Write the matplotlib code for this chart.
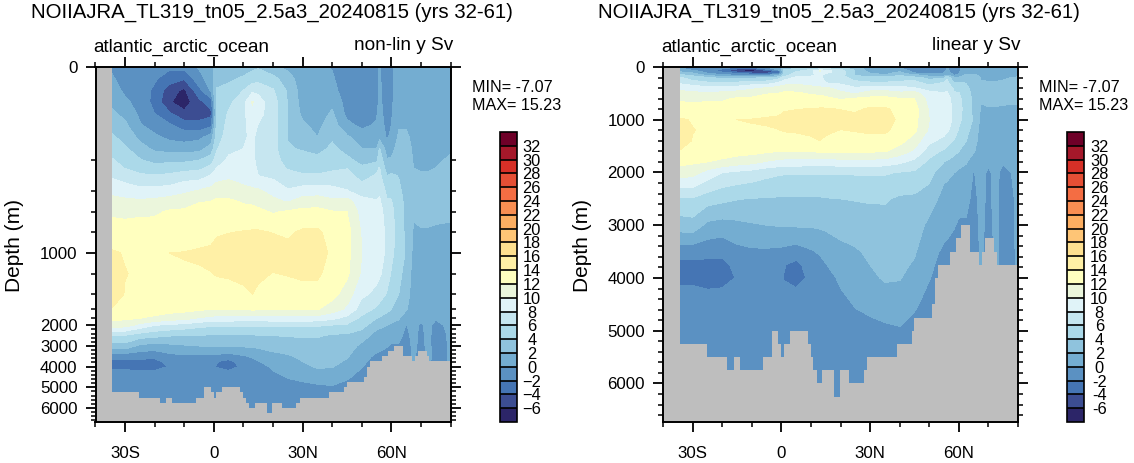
import numpy as np
import matplotlib
matplotlib.use("Agg")
import matplotlib.pyplot as plt
from matplotlib.colors import ListedColormap, BoundaryNorm
from matplotlib.ticker import FixedLocator, FixedFormatter

plt.rcParams['font.family'] = ['Liberation Sans', 'DejaVu Sans']

W, H = 1134, 463
title = "NOIIAJRA_TL319_tn05_2.5a3_20240815 (yrs 32-61)"
basin = "atlantic_arctic_ocean"
levels = list(range(-6, 34, 2))
band_colors = ['#2c2568', '#3c4d92', '#4575b4', '#5b91c2', '#74add1', '#8fc3dd', '#abd9e9',
               '#c6e6f0', '#e0f3f8', '#ebf6dc', '#ffffbf', '#fff0a6', '#fee090', '#fec576',
               '#fdae61', '#f98e52', '#f46d43', '#e54f35', '#d73027', '#a5182a', '#6e0028']

depths = [0, 25, 50, 75, 100, 125, 150, 175, 200, 250, 300, 400, 500, 600, 800, 1000,
          1200, 1400, 1600, 1800, 2000, 2500, 3000, 3500, 3750, 4000, 4250, 4500, 5000, 5500, 6000, 6300]
lats = [-34.5, -30, -25, -20, -15, -10, -5, -1, 1, 5, 10, 13, 15, 20, 25, 30, 35, 40, 45, 50,
        55, 56, 58.5, 60, 62.5, 65, 67.5, 70, 72.5, 75, 80]

psi_m34 = [-0.3,0.3,0.9,1.6,2.3,3.3,4.3,5.2,6.2,7,7.7,9.5,10.6,11.6,13,14.2,15,15,13.9,12.6,11,5.7,3,-1,-2.6,-2.4,-1.7,-1.4,-1.2,-1,-1,-1]
psi_m30 = [-1.4,-1,-0.4,0.4,1.5,2.4,3.3,4.3,5.3,5.9,7,9.1,10.4,11.4,13,13.9,14.05,13.9,13.4,12.3,10.8,5.8,3.2,-1.2,-2.5,-2.4,-1.7,-1.4,-1.2,-1,-1,-1]
psi_m25 = [-1.7,-1.5,-1.2,-0.8,-0.4,0.2,1.5,2.8,4.2,5.2,6.3,8.6,10.3,11.6,13,13.8,13.8,13.6,13.2,12,9.3,4.9,1.5,-1.3,-2.6,-2.6,-1.9,-1.4,-1.2,-1,-1,-1]
psi_m20 = [-1.5,-1.8,-2.3,-2.6,-2,-0.9,0.4,1.6,3.4,4.8,6.1,8.7,10.5,11.7,12.9,13.7,13.7,13.4,12.9,11.6,8,4.5,1.2,-1.5,-2.5,-2.6,-1.8,-1.4,-1.2,-1,-1,-1]
psi_m15 = [-1.7,-2.8,-5.2,-5.8,-3.7,-1.7,-0.5,1.2,3.6,4.9,6.4,8.9,10.9,12.2,13,14,13.9,13.5,12.8,11,7.6,4.1,1.5,-0.6,-1.5,-1.9,-1.6,-1.4,-1.2,-1,-1,-1]
psi_m10 = [-1.3,-3.8,-6.4,-7.07,-5.5,-2.9,-0.9,1.1,3.6,5.2,7,9.6,11.2,12.3,13.2,14.05,13.9,13.4,12.6,10.6,7.2,3.9,1.8,-0.3,-1,-1.5,-1.4,-1.3,-1.2,-1,-1,-1]
psi_m05 = [0.2,-0.8,-2.6,-4.6,-5,-3.3,-0.5,1.3,4,5.5,7.1,10.2,11.9,12.6,13.3,14.2,13.85,13.4,12.3,9.8,6.6,3.9,2,-0.3,-1,-1.5,-1.4,-1.3,-1.2,-1,-1,-1]
psi_m01 = [1.3,1,0.2,-3,-4.6,-2.5,0.8,2.8,5,6.6,8.1,10.7,12,12.7,13.3,14.4,13.95,13.4,12,9.4,6.3,3.8,2.1,-0.4,-1.4,-1.7,-1.5,-1.3,-1.2,-1,-1,-1]
psi_p01 = [2.7,3.2,4.2,4.5,4.5,4.7,5,5.8,7,8,9,11.3,12.3,13,13.7,15,14.1,13.4,12,9.2,6.2,3.8,2.1,-0.5,-1.9,-2.1,-1.6,-1.4,-1.2,-1,-1,-1]
psi_p05 = [3,3.6,4.7,5.5,6.2,6.6,7,7.5,8.4,9,9.6,11.1,12.3,12.9,13.95,15,14.2,13.4,12,9.2,6.2,3.8,2.2,-0.9,-2.6,-2.9,-1.7,-1.4,-1.2,-1,-1,-1]
psi_p10 = [3,4.3,6,7.3,7.5,7.6,7.7,8,8.6,9,9.4,10.4,11.8,12.6,14.1,15.2,14.5,13.6,12,9,6.2,3.8,2.2,-0.2,-1,-1.5,-1.3,-1.2,-1.1,-1,-1,-1]
psi_p13 = [3.5,5,7.5,10.2,9.5,8.7,8.4,8.3,8.4,8.6,8.9,10.3,11.7,12.5,14.2,15.2,14.6,14,12.3,9,6.2,3.8,2.3,0.2,-0.5,-1.1,-1.1,-1.1,-1.1,-1,-1,-1]
psi_p15 = [3.8,5.2,7.5,8.8,8.6,7.9,7.4,7.3,7.5,7.7,8,10.3,11.4,12.4,14.2,15.2,14.3,13.7,12.2,9,6.2,3.9,2.4,0.6,-0.1,-0.7,-0.9,-1,-1,-1,-1,-1]
psi_p20 = [2.5,4.6,6.2,6.9,7,7,6.9,6.7,6.9,7.1,7.6,9.3,10.5,11.8,13.95,14.8,13.95,13.4,12.2,9.2,6.2,4,2.5,1.6,1,0.3,-0.1,-0.5,-1,-1,-1,-1]
psi_p25 = [1.5,2.9,3.7,3.9,3.9,3.9,3.9,4.2,5.1,5.8,6.7,8.2,9.8,12.2,13.7,14.6,14.1,13.3,12.2,9.2,6.2,4.1,2.9,1.8,1.5,1.1,0.6,0.1,-0.6,-1,-1,-1]
psi_p30 = [0.8,0.9,1,1.2,1.6,2.3,3,3.8,4.9,5.5,6.2,8.9,10.9,12.5,14.3,15,14.2,13.6,12.2,9.2,6.2,4.2,3.1,2.3,2,1.6,1.1,0.5,-0.6,-1,-1,-1]
psi_p35 = [0.3,0.3,0.4,0.6,1,1.5,2,3.3,4.6,5.3,6.2,9.1,11,12.6,14.35,15.1,14.3,13.4,12.1,9.1,6.2,4.2,3.2,2.6,2.4,2.2,1.6,0.9,-0.4,-1,-1,-1]
psi_p40 = [-0.1,0.2,0.6,1.5,2.3,3,3.7,4.4,5.3,5.8,6.3,8.8,10.4,12.1,13.3,13.5,13.3,12.7,11,8.4,5.9,3.7,3,2.7,2.4,2.1,1.6,1,-0.2,-1,-1,-1]
psi_p45 = [-1,-1,-1,-0.8,-0.5,0.5,2.3,3.3,4.5,5.9,6.7,8.1,10.8,12,12.8,12.6,12.4,11,9.6,7.4,5.7,3.6,3,2.2,1.8,1.3,0.9,0.4,-1,-1,-1,-1]
psi_p50 = [-1.2,-1.3,-1.3,-1.2,-1,-0.4,0.9,2,3.4,4.3,5.2,7.2,8.6,9.2,9.8,10,9.7,8.4,7,5.5,4.8,2.9,1.5,0.6,0.4,0.1,-0.4,-1,-1.2,-1,-1,-1]
psi_p55 = [-0.5,-0.7,-0.8,-0.6,-0.2,0.2,0.9,2,3.5,5.5,6.2,7.4,8.1,8.6,8.9,9,8.6,7.5,5.6,4,2.5,1.3,0.6,-0.3,-0.7,-1,-1.1,-1.2,-1.2,-1,-1,-1]
psi_p56 = [0.2,0.2,0.3,0.4,0.6,0.9,1.4,4.1,5.3,6.1,6.5,7.6,8.3,8.8,9,8.8,8.3,7,5.2,3.8,2.4,1.2,0.5,-0.4,-0.7,-1,-1.1,-1.2,-1.2,-1,-1,-1]
psi_p58 = [-0.8,-0.9,-0.9,-0.9,-0.8,-0.6,-0.2,1,2.2,3,4,5.5,6.2,7,7.5,7.6,7,5.8,4.5,3.2,2,1,0.1,-0.7,-0.9,-1,-1,-1,-1,-1,-1,-1]
psi_p60 = [-0.2,-0.3,-0.3,-0.3,-0.2,0,0.3,1.2,2.3,3.2,4.3,5.6,6.1,6.5,6.8,6.5,5.8,5,4,2.8,1.6,0.8,-0.3,-1,-1,-1,-1,-1,-1,-1,-1,-1]
psi_p62 = [0.6,0.7,0.8,1,1.3,1.8,2.3,2.9,3.3,3.6,3.9,4.4,4.7,4.9,5,5,4.6,4,3.2,2.2,1.2,0.5,-0.2,-1,-1,-1,-1,-1,-1,-1,-1,-1]
psi_p65 = [0.8,0.9,1,1.2,1.5,1.9,2.2,2.5,2.8,3,3.1,3.3,3.5,3.6,3.6,3.8,3.2,2.7,2.2,0.6,-0.1,-0.5,-0.8,-1,-1,-1,-1,-1,-1,-1,-1,-1]
psi_p67 = [0.8,0.8,0.9,1.1,1.3,1.5,1.7,1.8,1.9,2,2.2,2.5,2.5,2.2,1.8,1.5,1.3,1.2,1,0.8,0.6,0.5,0.4,0.3,0.2,0.2,0.1,0,0,0,0,0]
psi_p70 = [0.8,0.8,0.9,1,1.2,1.4,1.6,1.7,1.8,1.9,2.1,2.4,2.6,2.6,1.8,1.6,1.3,1,0.7,0.3,-0.3,-0.4,-0.5,-0.8,-0.9,-1,-1,-1,-1,-1,-1,-1]
psi_p72 = [0.8,0.9,1,1.1,1.3,1.5,1.6,1.7,1.8,1.9,2.1,2.5,2.7,2.6,1.8,1.5,1.3,1.1,0.9,0.7,0.5,0.5,0.4,0.3,0.2,0.1,0,0,0,0,0,0]
psi_p75 = [0.9,1,1.1,1.2,1.4,1.5,1.6,1.7,1.9,2,2.2,2.6,2.8,2.5,1.7,1.4,1.2,1,0.6,0.2,-0.6,-0.9,-0.7,-0.4,-0.4,-0.5,-0.5,-0.5,-0.5,-0.5,-0.5,-0.5]
psi_p80 = [1,1.1,1.2,1.3,1.5,1.6,1.8,1.9,2.1,2.3,2.5,2.8,2.7,2.2,1.8,1.5,1.3,1.1,1,0.8,0.5,0.3,0.2,0.1,0.1,0.1,0,0,0,0,0,0]

psi_columns = [psi_m34, psi_m30, psi_m25, psi_m20, psi_m15, psi_m10, psi_m05, psi_m01, psi_p01, psi_p05,
               psi_p10, psi_p13, psi_p15, psi_p20, psi_p25, psi_p30, psi_p35, psi_p40, psi_p45, psi_p50,
               psi_p55, psi_p56, psi_p58, psi_p60, psi_p62, psi_p65, psi_p67, psi_p70, psi_p72, psi_p75, psi_p80]

floor_lat = [-34.4,-25.2,-18.2,-16,-14.1,-6.1,-3.2,-1.1,-0.1,0.9,2.9,8.9,9.9,10.8,11.9,13.9,17.9,19.8,22.9,27.9,29,39,
             44,45,50.9,51.8,52.9,56.9,58.9,60.9,63.9,66.9,67.9,68.9,71.9,72.9,80]
floor_depth = [5250,5500,5750,5500,5750,5500,5000,5250,5500,5250,5000,5250,5500,5750,6000,5750,6250,5750,6000,5750,5500,
               5250,5000,4750,4500,4000,3750,3500,3250,3000,3500,3750,3500,3250,3500,3750,3750]

stretch_depth = [0, 200, 400, 600, 800, 1000, 1200, 1400, 1600, 1800, 2000, 3000, 4000, 5000, 6000, 6730]
stretch_px = [0, 93.3, 124, 144.6, 165.3, 186, 206.6, 227.3, 242.3, 251.3, 258.3, 279, 299.6, 320.3, 341, 355]


def stretch(d):
    d = np.asarray(d, dtype=float)
    return np.interp(d, stretch_depth, stretch_px)


def unstretch(p):
    p = np.asarray(p, dtype=float)
    return np.interp(p, stretch_px, stretch_depth)


psi = np.array(psi_columns, dtype=float).T
cmap = ListedColormap(band_colors[1:-1])
cmap.set_under(band_colors[0])
cmap.set_over(band_colors[-1])
norm = BoundaryNorm(levels, cmap.N)

fig = plt.figure(figsize=(W / 100, H / 100), dpi=100)


def px_axes(x0, y0, x1, y1):
    return fig.add_axes([x0 / W, 1 - y1 / H, (x1 - x0) / W, (y1 - y0) / H])


def panel(left, cleft, sub, nonlin):
    ax = px_axes(left, 67, left + 355, 422)
    cs = ax.contourf(lats, depths, psi, levels=levels, cmap=cmap, norm=norm, extend='both')
    ax.axvspan(-40, -34.4, color='#bebebe', lw=0, zorder=3)
    ax.fill_between(floor_lat, floor_depth, 6800, step='post', color='#bebebe', lw=0, zorder=3)
    if nonlin:
        ax.set_yscale('function', functions=(stretch, unstretch))
    ax.set_ylim(6730, 0)
    ax.set_xlim(-40, 80)
    ax.xaxis.set_major_locator(FixedLocator([-30, 0, 30, 60]))
    ax.xaxis.set_major_formatter(FixedFormatter(['30S', '0', '30N', '60N']))
    ax.xaxis.set_minor_locator(FixedLocator(list(range(-40, 81, 10))))
    ax.yaxis.set_major_locator(FixedLocator(list(range(0, 7000, 1000))))
    ax.yaxis.set_major_formatter(FixedFormatter([str(v) for v in range(0, 7000, 1000)]))
    ax.yaxis.set_minor_locator(FixedLocator(list(range(0, 6800, 200))))
    ax.yaxis.set_minor_formatter(FixedFormatter([]))
    ax.tick_params(which='major', direction='out', length=7, width=1.3, top=True, right=True, labelsize=12.2, pad=6)
    ax.tick_params(which='minor', direction='out', length=3.6, width=1.1, top=True, right=True)
    ax.tick_params(axis='x', which='major', pad=10)
    for s in ax.spines.values():
        s.set_linewidth(1.4)
        s.set_zorder(5)
    fig.text((left - 81) / W, 1 - 245 / H, 'Depth (m)', rotation=90, fontsize=15, ha='center', va='center')
    fig.text((left + 176) / W, 1 - 12 / H, title, fontsize=14.7, ha='center', va='center')
    fig.text((left - 2) / W, 1 - 47 / H, basin, fontsize=13.5, ha='left', va='center')
    fig.text((left + 358) / W, 1 - 46 / H, sub, fontsize=13.7, ha='right', va='center')
    fig.text((left + 376) / W, 1 - 88 / H, 'MIN= -7.07', fontsize=11.6, ha='left', va='center')
    fig.text((left + 376) / W, 1 - 105 / H, 'MAX= 15.23', fontsize=11.6, ha='left', va='center')
    cax = px_axes(cleft, 132, cleft + 17, 422)
    cb = fig.colorbar(cs, cax=cax, ticks=levels[:], drawedges=True, extendrect=True,
                      extendfrac=1 / 19, spacing='uniform')
    cb.outline.set_linewidth(1.2)
    cb.dividers.set_linewidth(1.2)
    cb.set_ticks(levels)
    cb.set_ticklabels([str(v) for v in levels])
    cax.tick_params(length=0, labelsize=11.8, pad=11)
    for lab in cax.get_yticklabels():
        lab.set_ha('center')
    return ax


panel(95.5, 499.5, 'non-lin y Sv', True)
panel(663, 1067, 'linear y Sv', False)
fig.savefig('out.png', dpi=100)
